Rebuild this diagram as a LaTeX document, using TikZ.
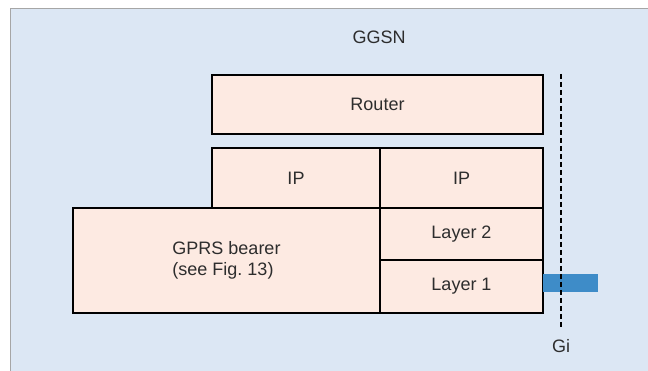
\documentclass[tikz,border=0pt]{standalone}
\usepackage{fontspec}
\setmainfont{Liberation Sans}
\usetikzlibrary{positioning}

\definecolor{panelblue}{RGB}{220,231,244}
\definecolor{boxpink}{RGB}{253,234,226}
\definecolor{barblue}{RGB}{62,140,200}
\definecolor{textgray}{RGB}{45,45,45}

\begin{document}
\begin{tikzpicture}[x=1pt,y=-1pt,
                    every node/.style = {text=textgray,
                    font=\fontsize{18}{21}\selectfont},
                    layerbox/.style = {draw=black, fill=boxpink,
                    line width=1.8pt, outer sep=0pt, inner sep=0pt,
                    anchor=north west, align=center}]
  \useasboundingbox (0,0) rectangle (648,371);
  \fill[panelblue] (10,9) rectangle (648,371);
  \draw[gray!70, line width=1pt] (10,371) -- (10,9) -- (648,9);

  \node (ggsn) at (379,37) {GGSN};

  \node[layerbox, minimum width=331, minimum height=59] (router) at (212,75) {Router};
  \node[layerbox, minimum width=168, minimum height=60] (ipleft) at (212,148) {IP};
  \node[layerbox, minimum width=163, minimum height=60] (ipright) at (380,148) {IP};
  \node[layerbox, minimum width=307, minimum height=105] (bearer) at (73,208) {};
  \node[align=left] (bearertext) at (bearer.center) {GPRS bearer\\(see Fig.~13)};
  \node[layerbox, minimum width=163, minimum height=52] (layertwo) at (380,208) {Layer 2};
  \node[layerbox, minimum width=163, minimum height=53] (layerone) at (380,260) {Layer 1};

  % interface Gi
  \node[fill=barblue, minimum width=55, minimum height=18, inner sep=0pt,
        anchor=west] (gibar) at ([yshift=3]layerone.east) {};
  \coordinate (gitop) at (561,74);
  \node (gi) at (561,346) {Gi};
  \draw[line width=1.6pt, dash pattern=on 5pt off 3pt, shorten >=8pt]
    (gitop) -- (gi.north);
\end{tikzpicture}
\end{document}
